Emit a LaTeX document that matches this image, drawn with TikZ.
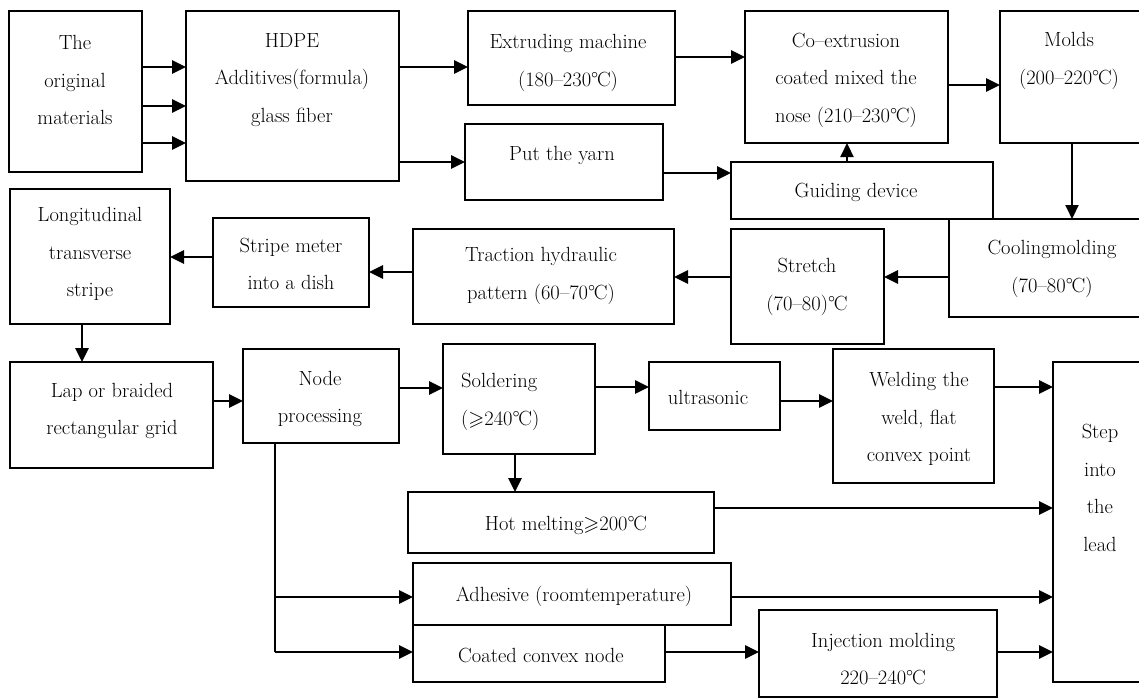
\documentclass[tikz,border=0pt]{standalone}
\usepackage{fontspec}
\usepackage{amssymb}
\usetikzlibrary{arrows.meta}
\newcommand\cel{\textdegree\kern-0.06em C}
\newcommand\gee{$\geqslant$}
\tikzset{
  box/.style={draw, line width=1.6pt, inner sep=0pt, outer sep=0pt},
  lbl/.style={align=center, inner sep=0pt, font=\fontsize{20.5}{37.5}\selectfont},
  arr/.style={line width=2.8pt, -{Triangle[length=14pt,width=13pt]}},
  ln/.style={line width=1.8pt},
}
\begin{document}
\begin{tikzpicture}[x=1pt,y=-1pt]
\fill[white] (0,0) rectangle (1139,697);
\useasboundingbox (0,0) rectangle (1139,697);
% boxes
\node[box,minimum width=133pt,minimum height=161pt] (orig) at (75.5,91.5) {};
\node[box,minimum width=213pt,minimum height=170pt] (hdpe) at (292.5,96) {};
\node[box,minimum width=207pt,minimum height=94pt] (extr) at (571.5,58) {};
\node[box,minimum width=203pt,minimum height=132pt] (coex) at (846.5,77) {};
\node[box,minimum width=145pt,minimum height=132pt] (molds) at (1072.5,77) {};
\node[box,minimum width=198pt,minimum height=76pt] (yarn) at (564,162) {};
\node[box,minimum width=262pt,minimum height=57pt] (guide) at (862,190.5) {};
\node[box,minimum width=196pt,minimum height=98pt] (cool) at (1047,268) {};
\node[box,minimum width=153pt,minimum height=115pt] (stretch) at (807.5,286.5) {};
\node[box,minimum width=261pt,minimum height=95pt] (traction) at (543.5,276.5) {};
\node[box,minimum width=156pt,minimum height=89pt] (stripe) at (291,262.5) {};
\node[box,minimum width=160pt,minimum height=135pt] (longi) at (90,256.5) {};
\node[box,minimum width=203pt,minimum height=106pt] (lap) at (111.5,415) {};
\node[box,minimum width=156pt,minimum height=94pt] (nodep) at (321,396) {};
\node[box,minimum width=152pt,minimum height=110pt] (solder) at (519,399) {};
\node[box,minimum width=131pt,minimum height=68pt] (ultra) at (714.5,396) {};
\node[box,minimum width=161pt,minimum height=134pt] (weld) at (913.5,416) {};
\node[box,minimum width=92pt,minimum height=320pt] (step) at (1099,522) {};
\node[box,minimum width=306pt,minimum height=61pt] (hot) at (561,522.5) {};
\node[box,minimum width=318pt,minimum height=62pt] (adh) at (572,594) {};
\node[box,minimum width=252pt,minimum height=57pt] (coat) at (539,653.5) {};
\node[box,minimum width=238pt,minimum height=87pt] (inj) at (878,653.5) {};
% labels
\node[lbl] (orig-t) at (75,80) {The\\original\\materials};
\node[lbl] (hdpe-t) at (292,80) {HDPE\\Additives(formula)\\glass fiber};
\node[lbl] (extr-t) at (568,63) {Extruding machine\\(180–230\cel)};
\node[lbl] (coex-t) at (846,80) {Co–extrusion\\coated mixed the\\nose (210–230\cel)};
\node[lbl] (molds-t) at (1069,61) {Molds\\(200–220\cel)};
\node[lbl] (yarn-t) at (562,155) {Put the yarn};
\node[lbl] (guide-t) at (856,192) {Guiding device};
\node[lbl] (cool-t) at (1052,269) {Coolingmolding\\(70–80\cel)};
\node[lbl] (stretch-t) at (807,287) {Stretch\\(70–80)\cel};
\node[lbl] (traction-t) at (541,276) {Traction hydraulic\\pattern (60–70\cel)};
\node[lbl] (stripe-t) at (291,264) {Stripe meter\\into a dish};
\node[lbl] (longi-t) at (90,254) {Longitudinal\\transverse\\stripe};
\node[lbl] (lap-t) at (112,411) {Lap or braided\\rectangular grid};
\node[lbl] (nodep-t) at (320,399) {Node\\processing};
\node[lbl,align=left,anchor=west] (solder-t) at (461,402) {Soldering\\(\gee240\cel)};
\node[lbl] (ultra-t) at (708,397) {ultrasonic};
\node[lbl] (weld-t) at (919,419) {Welding the\\weld, flat\\convex point};
\node[lbl] (step-t) at (1100,488) {Step\\into\\the\\lead};
\node[lbl] (hot-t) at (566,525) {Hot melting\gee200\cel};
\node[lbl] (adh-t) at (574,596) {Adhesive (roomtemperature)};
\node[lbl] (coat-t) at (541,655) {Coated convex node};
\node[lbl] (inj-t) at (883,659) {Injection molding\\220–240\cel};
% connectors
\draw[arr] (orig.east |- 0,67) -- (hdpe.west |- 0,67);
\draw[arr] (orig.east |- 0,106) -- (hdpe.west |- 0,106);
\draw[arr] (orig.east |- 0,143) -- (hdpe.west |- 0,143);
\draw[arr] (hdpe.east |- 0,67) -- (extr.west |- 0,67);
\draw[arr] (hdpe.east |- 0,162) -- (yarn.west |- 0,162);
\draw[arr] (extr.east |- 0,57) -- (coex.west |- 0,57);
\draw[arr] (coex.east |- 0,85) -- (molds.west |- 0,85);
\draw[arr] (yarn.east |- 0,173) -- (guide.west |- 0,173);
\draw[arr,line width=2.2pt] (guide.north -| 847,0) -- (coex.south -| 847,0);
\draw[arr,line width=2pt] (molds.south -| 1072,0) -- (cool.north -| 1072,0);
\draw[arr] (cool.west |- 0,277) -- (stretch.east |- 0,277);
\draw[arr] (stretch.west |- 0,277) -- (traction.east |- 0,277);
\draw[arr] (traction.west |- 0,272) -- (stripe.east |- 0,272);
\draw[arr] (stripe.west |- 0,257) -- (longi.east |- 0,257);
\draw[arr] (longi.south -| 82,0) -- (lap.north -| 82,0);
\draw[arr] (lap.east |- 0,401) -- (nodep.west |- 0,401);
\draw[arr] (nodep.east |- 0,388) -- (solder.west |- 0,388);
\draw[arr] (solder.east |- 0,387) -- (ultra.west |- 0,387);
\draw[arr] (ultra.east |- 0,401) -- (weld.west |- 0,401);
\draw[arr] (weld.east |- 0,387) -- (step.west |- 0,387);
\draw[arr] (solder.south -| 515,0) -- (hot.north -| 515,0);
\draw[arr] (hot.east |- 0,508) -- (step.west |- 0,508);
\coordinate (j1) at (275,597);
\coordinate (j2) at (275,652);
\draw[ln] (nodep.south -| j1) -- (j2);
\draw[arr] (j1) -- (adh.west |- j1);
\draw[arr] (j2) -- (coat.west |- j2);
\draw[arr] (adh.east |- 0,597) -- (step.west |- 0,597);
\draw[arr] (coat.east |- 0,652) -- (inj.west |- 0,652);
\draw[arr] (inj.east |- 0,652) -- (step.west |- 0,652);
\end{tikzpicture}
\end{document}
